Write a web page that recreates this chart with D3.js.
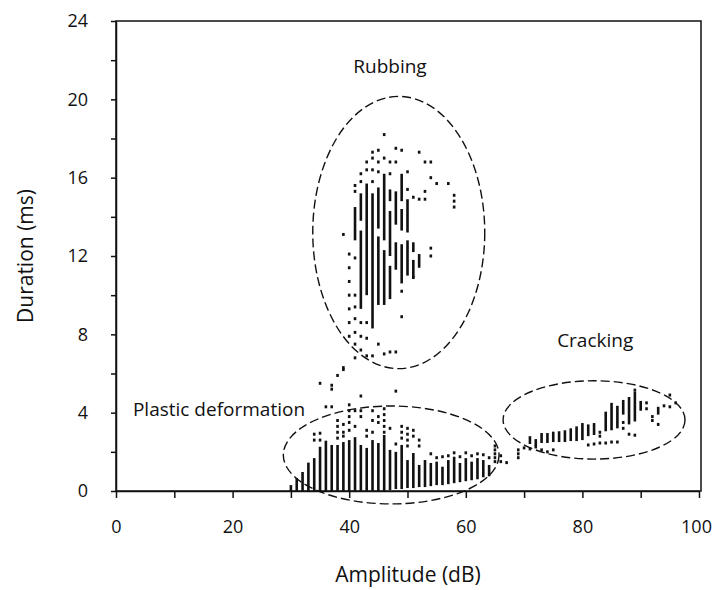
<!DOCTYPE html>
<html><head><meta charset="utf-8">
<script src="https://cdn.jsdelivr.net/npm/d3@7"></script>
<style>
body{margin:0;background:#fff}
svg{display:block}
text{font-family:"Open Sans",sans-serif;fill:#111}
</style>
</head><body>
<svg id="chart" width="714" height="590"></svg>
<script>
// ---------- data (amplitude dB, duration ms) ----------
const xTickValues = [0,10,20,30,40,50,60,70,80,90,100];
const xTickLabels = ["0","","20","","40","","60","","80","","100"];
const yTickValues = [0,2,4,6,8,10,12,14,16,18,20,22,24];
const yTickLabels = ["0","","4","","8","","12","","16","","20","","24"];

// vertical runs of events: [amplitude, duration low, duration high]
const plasticBars = [
  [30,0,0.3],[31,0,0.66],[32,0,0.97],[33,0,1.45],[34,0,1.68],[35,0,2.26],[36,0,2.57],
  [37,0,2.35],[38,0,2.35],[39,0,2.5],[40,0,2.6],[41,0,2.75],[42,0,2.35],[43,0,2.2],
  [44,0,2.6],[45,0,2.45],[46,0,2.86],[47,0.05,2.1],[48,0.1,2.0],[49,0.1,2.35],
  [50,0.15,1.58],[51,0.15,1.94],[52,0.2,1.33],[53,0.2,1.58],[54,0.25,1.43],[55,0.3,1.5],
  [56,0.3,1.24],[57,0.35,1.58],[58,0.4,1.75],[59,0.45,1.43],[60,0.5,1.68],[61,0.55,1.5],
  [62,0.6,1.68],[63,0.7,1.58],[64,0.75,1.33]
];
const plasticDots = [
  [35,5.5],[37,5.4],[37,5.2],[39,6.2],[42,4.85],[48,5.1],[36,4.3],[37,4.3],
  [34,2.9],[34,2.6],[35,2.95],[35,2.6],[38,3.6],[38,3.3],[38,3.0],[38,2.7],
  [39,3.4],[39,3.0],[39,2.8],[40,4.4],[40,4.1],[40,3.8],[40,3.5],[40,3.1],
  [41,4.1],[41,3.3],[42,4.1],[42,3.8],[43,3.1],[43,2.8],[44,4.1],[44,3.6],[44,3.0],
  [45,3.8],[45,3.5],[46,4.2],[46,3.9],[46,3.6],[46,3.3],[46,3.0],[47,3.2],
  [48,2.4],[49,3.3],[49,3.0],[49,2.7],[50,3.2],[50,2.9],[50,2.6],[50,2.3],
  [51,3.1],[51,2.8],[52,2.6],[52,2.3],[54,1.9],[55,1.7],[56,1.75],[57,1.8],
  [58,1.95],[59,1.75],[60,1.95],[61,1.8],[62,1.9],[63,1.85],[64,1.7]
];
const rubbingBars = [
  [41,12.8,14.5],[42,9.3,13.3],[42,13.8,15.2],[43,10.0,15.7],[44,8.3,15.2],
  [45,9.5,13.0],[45,13.4,15.5],[46,9.5,12.3],[46,12.8,16.2],
  [47,9.8,11.5],[47,12.0,14.3],[47,14.8,15.4],[48,11.3,12.7],[48,13.6,15.3],
  [49,10.6,12.6],[49,13.3,14.4],[49,14.8,16.2],[50,11.0,12.8],[50,13.2,14.9],
  [51,10.9,11.8],[51,12.2,12.7],[52,11.4,12.1]
];
const rubbingDots = [
  [38,5.9],[39,13.1],[39,6.3],
  [40,12.1],[40,11.4],[40,10.7],[40,10.0],[40,9.3],[40,8.6],[40,7.9],
  [41,15.6],[41,15.3],[41,11.9],[41,10.0],[41,9.4],[41,8.8],[41,8.1],[41,7.5],[41,6.8],
  [42,16.2],[42,15.8],[42,8.6],[42,7.9],[42,7.2],
  [43,16.8],[43,16.4],[43,8.6],[43,7.8],[43,6.9],
  [44,17.3],[44,17.0],[44,16.4],[44,15.8],[44,6.9],
  [45,17.4],[45,16.8],[45,16.3],[45,7.5],[46,18.2],[46,17.0],[46,7.0],
  [47,16.8],[47,16.2],[47,7.1],[48,17.5],[48,16.8],[48,7.1],
  [49,17.4],[49,10.2],[49,8.9],[50,16.3],[50,15.4],[51,15.0],[51,10.9],
  [52,17.3],[52,14.9],[53,16.8],[53,15.3],[53,14.9],
  [54,16.8],[54,16.0],[54,12.4],[54,12.0],[55,15.7],[57,15.7],[58,15.1],[58,14.8],[58,14.5]
];
const transitionDots = [
  [65,1.5],[65,1.7],[65,1.9],[65,2.1],[65,2.3],[66,1.8],[66,1.5],[67,1.45],
  [69,1.7],[69,1.9],[69,2.1]
];
const crackingBars = [
  [71,2.4,2.8],[72,2.3,2.65],[73,2.45,2.96],[74,2.45,2.96],[75,2.5,3.03],[76,2.5,3.05],
  [77,2.5,3.1],[78,2.55,3.2],[79,2.55,3.3],[80,2.6,3.47],[81,2.8,3.4],[82,2.86,3.47],
  [84,3.05,4.05],[85,3.1,4.5],[86,3.2,4.35],[87,3.9,4.65],[88,3.4,4.8],[89,3.55,5.07],
  [90,4.1,4.6],[93,3.9,4.3]
];
const crackingDots = [
  [70,2.2],[71,2.15],[72,2.25],[73,2.1],[74,2.0],[75,2.1],[81,2.35],[82,2.4],
  [83,3.0],[83,2.8],[83,2.45],[84,2.45],[85,2.5],[86,2.5],[87,3.5],[87,3.2],
  [88,2.9],[89,2.85],[89,5.15],[91,4.5],[91,4.2],[92,3.8],[92,3.6],[93,3.4],
  [94,4.35],[95,4.9],[95,4.3],[96,4.5]
];

// regions: name, centre amplitude, centre duration, half-width (dB), half-height (ms)
const regionNames = ["Rubbing","Plastic deformation","Cracking"];
const regionCx = [48.5, 47.2, 82.0];
const regionCy = [13.2, 1.84, 3.63];
const regionRx = [14.75, 18.5, 15.6];
const regionRy = [6.95, 2.5, 2.0];
// label anchor in data units
const labelX = [47.0, 2.9, 82.2];
const labelY = [21.35, 3.83, 7.35];
const labelAnchor = ["middle","start","middle"];

// ---------- drawing ----------
const svg = d3.select("#chart");
const x = d3.scaleLinear().domain([0,100]).range([116,699]);
const y = d3.scaleLinear().domain([0,24]).range([491,21]);
const ink = "#111";

// frame
svg.append("rect").attr("x",x(0)).attr("y",y(24))
  .attr("width",x(100)-x(0)+2).attr("height",y(0)-y(24))
  .attr("fill","none").attr("stroke",ink).attr("stroke-width",1.5);

const xAxis = d3.axisBottom(x).tickValues(xTickValues)
  .tickFormat((d,i)=>xTickLabels[i]).tickSize(7).tickPadding(22).tickSizeOuter(0);
const gx = svg.append("g").attr("transform",`translate(0,${y(0)})`).call(xAxis);
gx.select(".domain").attr("stroke",ink).attr("stroke-width",1.5);
gx.selectAll(".tick line").attr("stroke",ink).attr("stroke-width",1.5);
gx.selectAll(".tick text").attr("font-family","'Open Sans',sans-serif").attr("font-size",18).attr("fill",ink)
  .attr("dx",d=>d===100?"-3":"0");

const yAxis = d3.axisLeft(y).tickValues(yTickValues)
  .tickFormat((d,i)=>yTickLabels[i]).tickSize(5).tickPadding(23).tickSizeOuter(0);
const gy = svg.append("g").attr("transform",`translate(${x(0)},0)`).call(yAxis);
gy.select(".domain").attr("stroke",ink).attr("stroke-width",1.5);
gy.selectAll(".tick line").attr("stroke",ink).attr("stroke-width",1.5);
gy.selectAll(".tick text").attr("font-family","'Open Sans',sans-serif").attr("font-size",18).attr("fill",ink);

// axis titles
svg.append("text").attr("x",408).attr("y",582).attr("text-anchor","middle")
  .attr("font-size",21).text("Amplitude (dB)");
svg.append("text").attr("transform","translate(33,256) rotate(-90)").attr("text-anchor","middle")
  .attr("font-size",21).text("Duration (ms)");

// event marks
const marks = svg.append("g").attr("fill",ink);
const barW = 2.6;
const allBars = plasticBars.concat(rubbingBars, crackingBars);
marks.selectAll("rect.bar").data(allBars).join("rect").attr("class","bar")
  .attr("x",d=>x(d[0])-barW/2).attr("width",barW)
  .attr("y",d=>y(d[2])).attr("height",d=>Math.max(2.5,y(d[1])-y(d[2])));
const allDots = plasticDots.concat(rubbingDots, transitionDots, crackingDots);
marks.selectAll("rect.dot").data(allDots).join("rect").attr("class","dot")
  .attr("x",d=>x(d[0])-1.3).attr("width",2.6)
  .attr("y",d=>y(d[1])-1.5).attr("height",3);

// dashed ellipses
svg.append("g").selectAll("ellipse").data(regionNames).join("ellipse")
  .attr("cx",(d,i)=>x(regionCx[i])).attr("cy",(d,i)=>y(regionCy[i]))
  .attr("rx",(d,i)=>x(regionRx[i])-x(0)).attr("ry",(d,i)=>y(0)-y(regionRy[i]))
  .attr("fill","none").attr("stroke",ink).attr("stroke-width",1.4)
  .attr("stroke-dasharray","9,4");

// region labels
svg.append("g").selectAll("text").data(regionNames).join("text")
  .attr("x",(d,i)=>x(labelX[i])).attr("y",(d,i)=>y(labelY[i]))
  .attr("text-anchor",(d,i)=>labelAnchor[i])
  .attr("font-size",19).text(d=>d);
</script>
</body></html>
